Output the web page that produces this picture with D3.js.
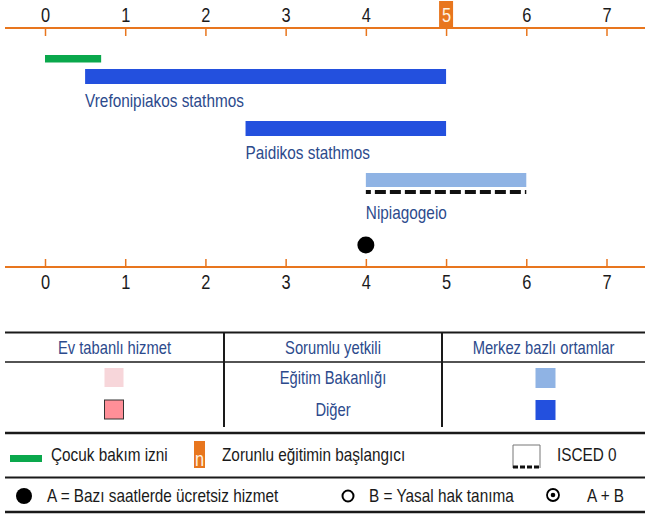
<!DOCTYPE html>
<html>
<head>
<meta charset="utf-8">
<script src="https://cdn.jsdelivr.net/npm/d3@7"></script>
<style>
  html, body { margin: 0; padding: 0; background: #fff; }
  svg { display: block; }
</style>
</head>
<body>
<svg id="chart" width="645" height="517"></svg>
<script>
// Age axis (years)
const ageTicks = [0, 1, 2, 3, 4, 5, 6, 7];
const compulsoryStart = 5;

// Childcare leave span (years)
const leaveStart = 0;
const leaveEnd = 0.7;

// Centre-based settings
const settingNames = ["Vrefonipiakos stathmos", "Paidikos stathmos", "Nipiagogeio"];
const settingStart = [0.5, 2.5, 4];
const settingEnd = [5, 5, 6];
const settingAuthority = ["Diğer", "Diğer", "Eğitim Bakanlığı"];

// ISCED 0 span and free-hours entitlement
const iscedStart = 4;
const iscedEnd = 6;
const freeHoursAge = [4];

// Legend table
const tableHeaders = ["Ev tabanlı hizmet", "Sorumlu yetkili", "Merkez bazlı ortamlar"];
const authorities = ["Eğitim Bakanlığı", "Diğer"];
const legendRow1 = ["Çocuk bakım izni", "Zorunlu eğitimin başlangıcı", "ISCED 0"];
const legendRow2 = ["A = Bazı saatlerde ücretsiz hizmet", "B = Yasal hak tanıma", "A + B"];

// use a narrow face when installed, otherwise squeeze the regular one
function fontAvailable(name) {
  const c = document.createElement("canvas").getContext("2d");
  const s = "Vrefonipiakos stathmos 0123";
  c.font = "40px monospace";
  const a = c.measureText(s).width;
  c.font = `40px "${name}", monospace`;
  return c.measureText(s).width !== a;
}
const narrow = fontAvailable("Liberation Sans Narrow");
const FONT = narrow ? '"Liberation Sans Narrow", sans-serif' : '"Liberation Sans", Arial, sans-serif';
const SX = narrow ? 1 : 0.82;

const ORANGE = "#e8761e";
const TEXT_BLUE = "#2c4a8c";
const DARK_BLUE = "#2350de";
const LIGHT_BLUE = "#8fb3e4";
const GREEN = "#0aa84c";
const INK = "#1a1a1a";

const svg = d3.select("#chart").style("font-family", FONT);

// text placed at (x, y) and squeezed horizontally around its anchor
function label(parent, x, y, str, opts = {}) {
  return parent.append("text")
    .attr("transform", `translate(${x},${y}) scale(${SX},1)`)
    .attr("text-anchor", opts.anchor || "start")
    .attr("fill", opts.fill || INK)
    .style("font-size", (opts.size || 18.7) + "px")
    .text(str);
}

const x = d3.scaleLinear().domain([0, 7]).range([45, 606.5]);

const authColor = d3.scaleOrdinal().domain(authorities).range([LIGHT_BLUE, DARK_BLUE]);
const homeColor = d3.scaleOrdinal().domain(authorities).range(["#f7d6da", "#ff8f98"]);

// ---- top axis ----
const topY = 28;
svg.append("line").attr("x1", 5).attr("x2", 645).attr("y1", topY).attr("y2", topY)
  .attr("stroke", ORANGE).attr("stroke-width", 2);

// compulsory education marker behind its tick label
svg.append("rect")
  .attr("x", x(compulsoryStart) - 7).attr("y", 1).attr("width", 14).attr("height", 28)
  .attr("fill", ORANGE);

const topAxis = svg.append("g").attr("transform", `translate(0,${topY})`)
  .call(d3.axisBottom(x).tickValues(ageTicks).tickSize(8).tickFormat(d3.format("d")));
topAxis.select(".domain").remove();
topAxis.selectAll(".tick line").attr("stroke", ORANGE).attr("stroke-width", 1.5);
topAxis.selectAll(".tick text")
  .attr("y", null).attr("dy", null)
  .attr("transform", `translate(0,-6) scale(${SX},1)`)
  .style("font-family", FONT).style("font-size", "20px")
  .attr("fill", d => d === compulsoryStart ? "#fff3e3" : INK);

// ---- bottom axis ----
const botY = 267;
svg.append("line").attr("x1", 5).attr("x2", 645).attr("y1", botY).attr("y2", botY)
  .attr("stroke", ORANGE).attr("stroke-width", 2);
const botAxis = svg.append("g").attr("transform", `translate(0,${botY})`)
  .call(d3.axisTop(x).tickValues(ageTicks).tickSize(8).tickFormat(d3.format("d")));
botAxis.select(".domain").remove();
botAxis.selectAll(".tick line").attr("stroke", ORANGE).attr("stroke-width", 1.5);
botAxis.selectAll(".tick text")
  .attr("y", null).attr("dy", null)
  .attr("transform", `translate(0,22) scale(${SX},1)`)
  .style("font-family", FONT).style("font-size", "20px")
  .attr("fill", INK);

// ---- childcare leave ----
svg.append("rect")
  .attr("x", x(leaveStart)).attr("width", x(leaveEnd) - x(leaveStart))
  .attr("y", 55).attr("height", 7.5).attr("fill", GREEN);

// ---- settings bars ----
const barTop = [69, 121, 173];
const barH = [15, 15, 14];
const labelY = [107, 159, 219];

const bars = svg.append("g");
settingNames.forEach((name, i) => {
  bars.append("rect")
    .attr("x", x(settingStart[i])).attr("width", x(settingEnd[i]) - x(settingStart[i]))
    .attr("y", barTop[i]).attr("height", barH[i])
    .attr("fill", authColor(settingAuthority[i]));
  label(bars, x(settingStart[i]), labelY[i], name, { fill: TEXT_BLUE });
});

// ISCED 0 dashed line
svg.append("line")
  .attr("x1", x(iscedStart)).attr("x2", x(iscedEnd))
  .attr("y1", 192).attr("y2", 192)
  .attr("stroke", "#111").attr("stroke-width", 4)
  .attr("stroke-dasharray", "11,4").attr("stroke-dashoffset", 6);

// free hours dot
svg.selectAll("circle.free").data(freeHoursAge).join("circle")
  .attr("class", "free")
  .attr("cx", d => x(d)).attr("cy", 245).attr("r", 8.5).attr("fill", "#000");

// ---- legend table ----
const colX = [5, 224, 442, 645];
const colC = [114.5, 333, 543.5];
const tbl = svg.append("g");
tbl.append("line").attr("x1", 5).attr("x2", 645).attr("y1", 332.5).attr("y2", 332.5).attr("stroke", INK).attr("stroke-width", 2);
tbl.append("line").attr("x1", 5).attr("x2", 645).attr("y1", 362).attr("y2", 362).attr("stroke", INK).attr("stroke-width", 1.5);
tbl.append("line").attr("x1", 5).attr("x2", 645).attr("y1", 433).attr("y2", 433).attr("stroke", INK).attr("stroke-width", 2.5);
[colX[1], colX[2]].forEach(cx => {
  tbl.append("line").attr("x1", cx).attr("x2", cx).attr("y1", 332).attr("y2", 427)
    .attr("stroke", INK).attr("stroke-width", 2);
});
tableHeaders.forEach((h, i) => {
  label(tbl, colC[i], 354, h, { anchor: "middle", fill: TEXT_BLUE, size: 18 });
});
const rowC = [378, 410];
authorities.forEach((a, i) => {
  label(tbl, colC[1], rowC[i] + 6, a, { anchor: "middle", fill: TEXT_BLUE, size: 18 });
  tbl.append("rect").attr("x", colC[0] - 10).attr("y", rowC[i] - 10).attr("width", 19).attr("height", 19)
    .attr("fill", homeColor(a))
    .attr("stroke", i === 1 ? "#333" : "none").attr("stroke-width", 1);
  tbl.append("rect").attr("x", colC[2] - 8).attr("y", rowC[i] - 10).attr("width", 20).attr("height", 20)
    .attr("fill", authColor(a));
});

// ---- symbol legend ----
const lg = svg.append("g");
const r1 = 455, r2 = 496;
lg.append("rect").attr("x", 10).attr("y", r1).attr("width", 32).attr("height", 7).attr("fill", GREEN);
label(lg, 51, r1 + 6, legendRow1[0]);
lg.append("rect").attr("x", 194).attr("y", 441).attr("width", 11).attr("height", 27).attr("fill", ORANGE);
label(lg, 199.5, 466, "n", { anchor: "middle", fill: "#fff3e3", size: 20 });
label(lg, 222, r1 + 6, legendRow1[1]);
// ISCED icon
lg.append("path").attr("d", "M513,468 V445 H540 V468").attr("fill", "none").attr("stroke", "#777").attr("stroke-width", 1);
lg.append("line").attr("x1", 513).attr("x2", 540).attr("y1", 467).attr("y2", 467)
  .attr("stroke", "#111").attr("stroke-width", 3).attr("stroke-dasharray", "5,2");
label(lg, 557, r1 + 6, legendRow1[2]);

lg.append("line").attr("x1", 5).attr("x2", 645).attr("y1", 477.5).attr("y2", 477.5).attr("stroke", INK).attr("stroke-width", 2);

lg.append("circle").attr("cx", 24).attr("cy", r2).attr("r", 8).attr("fill", "#000");
label(lg, 47, r2 + 6, legendRow2[0]);
lg.append("circle").attr("cx", 348).attr("cy", r2).attr("r", 5.5).attr("fill", "#fff").attr("stroke", "#000").attr("stroke-width", 2);
label(lg, 369, r2 + 6, legendRow2[1]);
lg.append("circle").attr("cx", 553).attr("cy", r2 - 1).attr("r", 6).attr("fill", "#fff").attr("stroke", "#000").attr("stroke-width", 1.8);
lg.append("circle").attr("cx", 553).attr("cy", r2 - 1).attr("r", 2.3).attr("fill", "#000");
label(lg, 587, r2 + 6, legendRow2[2]);

lg.append("line").attr("x1", 5).attr("x2", 645).attr("y1", 512).attr("y2", 512).attr("stroke", INK).attr("stroke-width", 2.5);
</script>
</body>
</html>
